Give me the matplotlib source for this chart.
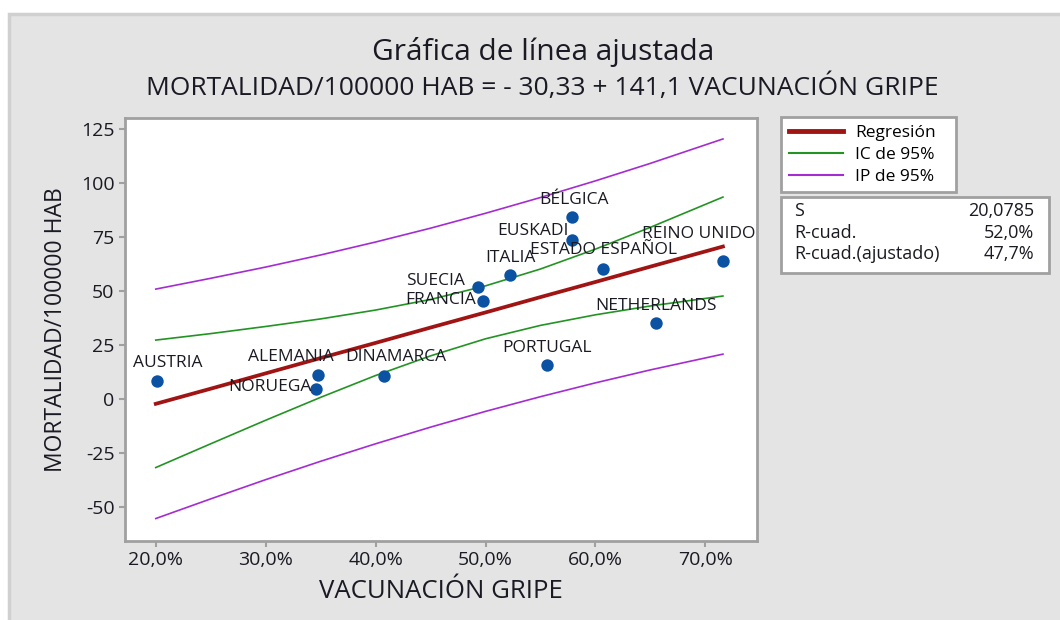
import matplotlib.pyplot as plt
from matplotlib.patches import Rectangle
from matplotlib.lines import Line2D
from matplotlib.ticker import FuncFormatter

plt.rcParams['font.family'] = ['Open Sans', 'DejaVu Sans']
plt.rcParams['axes.unicode_minus'] = False

# countries: flu vaccination (%) and mortality per 100000
paises = ['AUSTRIA', 'ALEMANIA', 'NORUEGA', 'DINAMARCA', 'SUECIA', 'FRANCIA',
          'ITALIA', 'BÉLGICA', 'EUSKADI', 'ESTADO ESPAÑOL', 'REINO UNIDO',
          'NETHERLANDS', 'PORTUGAL']
vacunacion = [20.1, 34.8, 34.6, 40.8, 49.3, 49.8, 52.2, 57.9, 57.9, 60.7, 71.6, 65.5, 55.6]
mortalidad = [8.5, 11.3, 4.8, 10.8, 52.0, 45.5, 57.5, 84.4, 73.7, 60.3, 64.0, 35.3, 15.9]

# fitted line and bands, read along x
x_linea = [20, 25, 30, 35, 40, 45, 50, 55, 60, 65, 71.6]
regresion = [-2.1, 4.9, 12.0, 19.1, 26.1, 33.2, 40.2, 47.3, 54.3, 61.4, 70.7]
ic_sup = [27.4, 30.4, 33.7, 37.2, 41.3, 46.2, 52.5, 60.3, 69.5, 79.6, 93.6]
ic_inf = [-31.6, -20.6, -9.7, 0.9, 11.0, 20.1, 28.0, 34.2, 39.1, 43.2, 47.8]
ip_sup = [51.0, 56.0, 61.2, 66.8, 72.8, 79.2, 86.1, 93.4, 101.1, 109.2, 120.5]
ip_inf = [-55.2, -46.1, -37.2, -28.7, -20.6, -12.9, -5.6, 1.2, 7.6, 13.6, 20.9]

stats_nombres = ['S', 'R-cuad.', 'R-cuad.(ajustado)']
stats_valores = ['20,0785', '52,0%', '47,7%']

# label offsets in pixels (dx, dy)
offsets = {'AUSTRIA': (11, 18), 'ALEMANIA': (-28, 18), 'NORUEGA': (-46, 2),
           'DINAMARCA': (11, 19), 'SUECIA': (-42, 6), 'FRANCIA': (-43, 1),
           'ITALIA': (1, 17), 'BÉLGICA': (2, 17), 'EUSKADI': (-39, 9),
           'ESTADO ESPAÑOL': (0, 19), 'REINO UNIDO': (-24, 27),
           'NETHERLANDS': (0, 17), 'PORTUGAL': (0, 17)}

c_reg = '#a01414'
c_ic = '#239423'
c_ip = '#a52cd0'
c_pt = '#0b52a2'
c_frame = '#a0a0a0'
c_txt = '#1a1a24'

fig = plt.figure(figsize=(10.6, 6.2), dpi=100)
fig.patch.set_facecolor('white')
fig.patches.append(Rectangle((9/1060, -0.05), 1.1, (620-14)/620 + 0.05,
                             transform=fig.transFigure, facecolor='#e4e4e4',
                             edgecolor='#d0d0d0', linewidth=2.5, zorder=-5))

ax = fig.add_axes([125/1060, 1-541/620, 632/1060, 423/620])
ax.set_facecolor('white')

ax.plot(x_linea, ip_sup, color=c_ip, lw=1.2)
ax.plot(x_linea, ip_inf, color=c_ip, lw=1.2)
ax.plot(x_linea, ic_sup, color=c_ic, lw=1.2)
ax.plot(x_linea, ic_inf, color=c_ic, lw=1.2)
ax.plot(x_linea, regresion, color=c_reg, lw=2.7)
ax.scatter(vacunacion, mortalidad, s=80, color=c_pt, zorder=5, linewidths=0)

for nombre, xv, yv in zip(paises, vacunacion, mortalidad):
    dx, dy = offsets[nombre]
    ax.annotate(nombre, (xv, yv), xytext=(dx, dy), textcoords='offset pixels',
                ha='center', va='center', fontsize=12.5, color=c_txt, zorder=6)

ax.set_xlim(17.2, 74.7)
ax.set_ylim(-65.6, 130.2)
ax.set_xticks([20, 30, 40, 50, 60, 70])
ax.set_yticks([-50, -25, 0, 25, 50, 75, 100, 125])
ax.xaxis.set_major_formatter(FuncFormatter(lambda v, p: f'{v:.1f}%'.replace('.', ',')))
ax.tick_params(colors=c_frame, labelcolor=c_txt, labelsize=14, length=4, width=1.5)
for s in ax.spines.values():
    s.set_color(c_frame)
    s.set_linewidth(2)

ax.set_xlabel('VACUNACIÓN GRIPE', fontsize=18.5, color=c_txt, labelpad=7)
ax.set_ylabel('MORTALIDAD/100000 HAB', fontsize=16.5, color=c_txt, labelpad=9)

fig.text(0.512, 1-52/620, 'Gráfica de línea ajustada', ha='center', va='center',
         fontsize=21.5, color=c_txt)
fig.text(0.512, 1-87/620, 'MORTALIDAD/100000 HAB = - 30,33 + 141,1 VACUNACIÓN GRIPE',
         ha='center', va='center', fontsize=19, color=c_txt)

# legend box (frame drawn separately to get the wider box)
fig.patches.append(Rectangle((781/1060, 1-192/620), 175/1060, 75/620,
                             transform=fig.transFigure, facecolor='white',
                             edgecolor=c_frame, linewidth=2, zorder=2))
handles = [Line2D([], [], color=c_reg, lw=3.5), Line2D([], [], color=c_ic, lw=1.5),
           Line2D([], [], color=c_ip, lw=1.5)]
leg = fig.legend(handles, ['Regresión', 'IC de 95%', 'IP de 95%'], loc='upper left',
                 bbox_to_anchor=(781/1060, 1-117/620), fontsize=12.5,
                 handlelength=3.1, handletextpad=0.7, borderpad=0.45,
                 borderaxespad=0, labelspacing=0.33, frameon=False)
leg.set_zorder(3)

# stats box
fig.patches.append(Rectangle((781/1060, 1-273/620), 268/1060, 76/620,
                             transform=fig.transFigure, facecolor='white',
                             edgecolor=c_frame, linewidth=2, zorder=2))
for i in range(len(stats_nombres)):
    yy = 1 - (211 + 21.5*i)/620
    fig.text(794/1060, yy, stats_nombres[i], ha='left', va='center', fontsize=13, color=c_txt)
    fig.text(1034/1060, yy, stats_valores[i], ha='right', va='center', fontsize=13, color=c_txt)

fig.savefig('out.png', dpi=100)
